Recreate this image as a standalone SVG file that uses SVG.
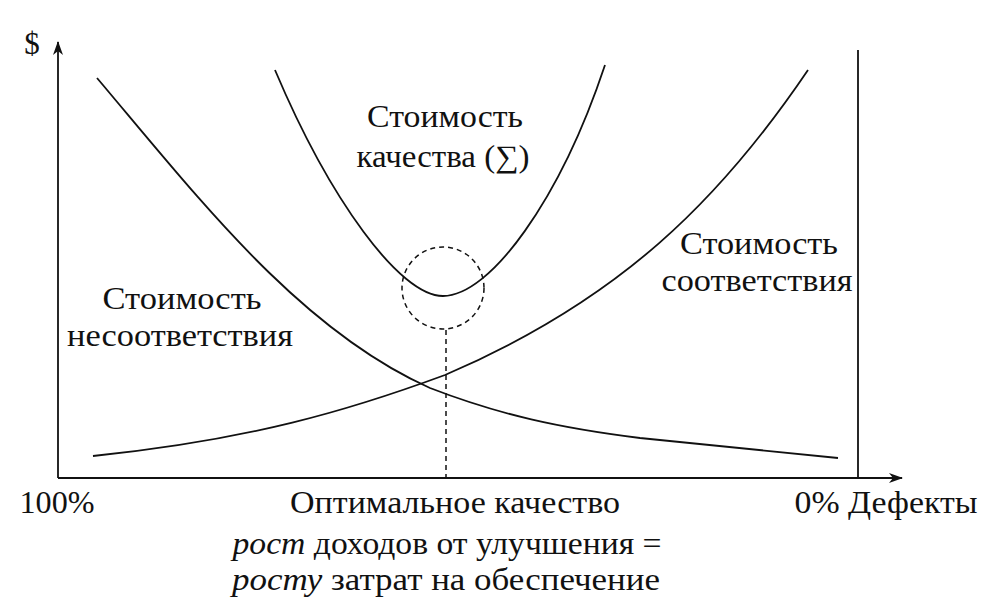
<svg xmlns="http://www.w3.org/2000/svg" width="984" height="604" viewBox="0 0 984 604">
<style>
text{font-family:'Liberation Serif','Times New Roman','Noto Serif',serif;font-size:31px;fill:#111;text-anchor:middle}
.c{fill:none;stroke:#111;stroke-width:1.8}
.d{fill:none;stroke:#111;stroke-width:1.5;stroke-dasharray:5,4}
</style>
<defs><marker id="a" markerWidth="14" markerHeight="10" refX="13" refY="5" orient="auto" markerUnits="userSpaceOnUse"><path d="M0,0 L14,5 L0,10 L4,5 Z" fill="#111"/></marker></defs>
<rect width="984" height="604" fill="#fff"/>
<g id="axes">
<line class="c" x1="58" y1="478" x2="58" y2="42" marker-end="url(#a)"/>
<line class="c" x1="58" y1="478" x2="902" y2="478" marker-end="url(#a)"/>
<line class="c" x1="858" y1="50" x2="858" y2="478"/>
</g>
<g id="curves">
<path class="c" d="M97,78 C200,200 300,330 430,388 C500,415 560,428 640,438 L838,458"/>
<path class="c" d="M93,456 C250,440 350,410 445,375 C620,300 720,200 808,70"/>
<path class="c" d="M275,70 C330,200 400,296 443,296 C490,296 560,200 605,65"/>
<circle class="d" cx="443" cy="288" r="41"/>
<line class="d" x1="446" y1="330" x2="446" y2="478"/>
</g>
<g id="labels" lengthAdjust="spacingAndGlyphs">
<text x="32" y="54">$</text>
<text x="445" y="127" textLength="156" lengthAdjust="spacingAndGlyphs">Стоимость</text>
<text x="443" y="167" textLength="173" lengthAdjust="spacingAndGlyphs">качества (∑)</text>
<text x="759" y="254" textLength="158" lengthAdjust="spacingAndGlyphs">Стоимость</text>
<text x="757" y="291" textLength="191" lengthAdjust="spacingAndGlyphs">соответствия</text>
<text x="182" y="309" textLength="159" lengthAdjust="spacingAndGlyphs">Стоимость</text>
<text x="180" y="346" textLength="226" lengthAdjust="spacingAndGlyphs">несоответствия</text>
<text x="57" y="513" textLength="75" lengthAdjust="spacingAndGlyphs">100%</text>
<text x="455" y="513" textLength="330" lengthAdjust="spacingAndGlyphs">Оптимальное качество</text>
<text x="447" y="554" textLength="429" lengthAdjust="spacingAndGlyphs"><tspan font-style="italic">рост</tspan> доходов от улучшения =</text>
<text x="446" y="590" textLength="428" lengthAdjust="spacingAndGlyphs"><tspan font-style="italic">росту</tspan> затрат на обеспечение</text>
<text x="886" y="513" textLength="183" lengthAdjust="spacingAndGlyphs">0% Дефекты</text>
</g>
</svg>
